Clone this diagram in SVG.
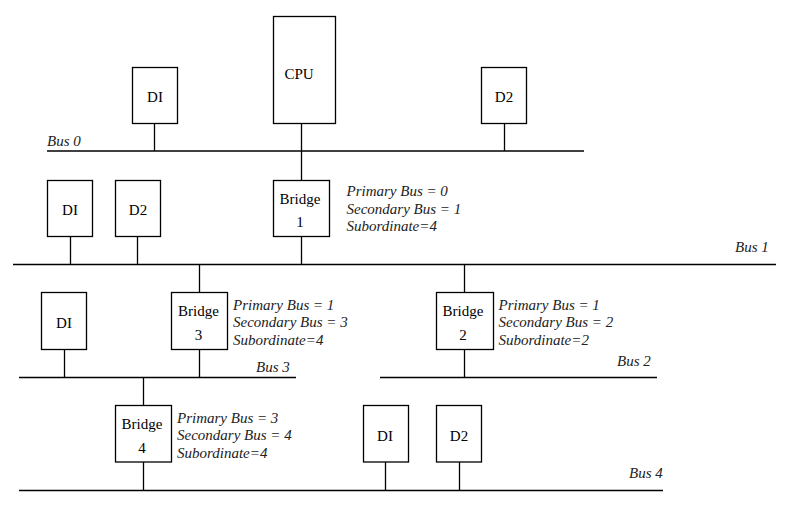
<svg xmlns="http://www.w3.org/2000/svg" width="802" height="513" viewBox="0 0 802 513">
<style>
.box{fill:#fff;stroke:#000;stroke-width:1.3}
.ln{stroke:#000;stroke-width:1.3;fill:none}
.t{font-family:'Liberation Serif','Times New Roman','DejaVu Serif',serif;font-size:15px;fill:#000;text-anchor:middle}
.i{font-family:'Liberation Serif','Times New Roman','DejaVu Serif',serif;font-size:15px;font-style:italic;fill:#222}
</style>
<rect width="802" height="513" fill="#fff"/>
<g id="connectors">
<line class="ln" x1="47" y1="151" x2="584" y2="151"/>
<line class="ln" x1="13" y1="264.5" x2="776" y2="264.5"/>
<line class="ln" x1="19" y1="377.5" x2="296" y2="377.5"/>
<line class="ln" x1="380" y1="377.5" x2="657" y2="377.5"/>
<line class="ln" x1="19" y1="490.5" x2="663" y2="490.5"/>
<line class="ln" x1="154.5" y1="123.5" x2="154.5" y2="151"/>
<line class="ln" x1="301.5" y1="123.5" x2="301.5" y2="180.5"/>
<line class="ln" x1="504.5" y1="123.5" x2="504.5" y2="151"/>
<line class="ln" x1="70.5" y1="236.5" x2="70.5" y2="264.5"/>
<line class="ln" x1="137.5" y1="236.5" x2="137.5" y2="264.5"/>
<line class="ln" x1="301.5" y1="236.5" x2="301.5" y2="264.5"/>
<line class="ln" x1="199.5" y1="264.5" x2="199.5" y2="292.5"/>
<line class="ln" x1="464.5" y1="264.5" x2="464.5" y2="292.5"/>
<line class="ln" x1="64.5" y1="349.5" x2="64.5" y2="377.5"/>
<line class="ln" x1="199.5" y1="349.5" x2="199.5" y2="377.5"/>
<line class="ln" x1="464.5" y1="349.5" x2="464.5" y2="377.5"/>
<line class="ln" x1="143.5" y1="377.5" x2="143.5" y2="405.5"/>
<line class="ln" x1="143.5" y1="462" x2="143.5" y2="490.5"/>
<line class="ln" x1="385.5" y1="462" x2="385.5" y2="490.5"/>
<line class="ln" x1="459.5" y1="462" x2="459.5" y2="490.5"/>
</g>
<g id="labels">
<text class="i" x="47" y="146">Bus 0</text>
<text class="i" x="735" y="252">Bus 1</text>
<text class="i" x="256" y="372">Bus 3</text>
<text class="i" x="617" y="366">Bus 2</text>
<text class="i" x="629" y="478">Bus 4</text>
</g>
<g id="cpu"><rect class="box" x="273.5" y="16.5" width="62" height="107"/><text class="t" x="299" y="79">CPU</text></g>
<g id="d1-bus0"><rect class="box" x="132.5" y="67.5" width="45" height="56"/><text class="t" x="155" y="102">DI</text></g>
<g id="d2-bus0"><rect class="box" x="481.5" y="67.5" width="45" height="56"/><text class="t" x="504" y="102">D2</text></g>
<g id="d1-bus1"><rect class="box" x="47.5" y="180.5" width="45" height="56"/><text class="t" x="70" y="215">DI</text></g>
<g id="d2-bus1"><rect class="box" x="115.5" y="180.5" width="45" height="56"/><text class="t" x="138" y="215">D2</text></g>
<g id="bridge1"><rect class="box" x="273.5" y="180.5" width="56" height="56"/><text class="t" x="300" y="204">Bridge</text><text class="t" x="300" y="227">1</text>
<text class="i" x="346.5" y="196">Primary Bus = 0</text><text class="i" x="346.5" y="213.5">Secondary Bus = 1</text><text class="i" x="346.5" y="231">Subordinate=4</text></g>
<g id="d1-bus3"><rect class="box" x="41.5" y="292.5" width="45" height="57"/><text class="t" x="64" y="328">DI</text></g>
<g id="bridge3"><rect class="box" x="171.5" y="292.5" width="56" height="57"/><text class="t" x="198.5" y="316">Bridge</text><text class="t" x="198.5" y="340">3</text>
<text class="i" x="233" y="310">Primary Bus = 1</text><text class="i" x="233" y="327">Secondary Bus = 3</text><text class="i" x="233" y="345">Subordinate=4</text></g>
<g id="bridge2"><rect class="box" x="436.5" y="292.5" width="57" height="57"/><text class="t" x="463" y="316">Bridge</text><text class="t" x="463" y="340">2</text>
<text class="i" x="498.5" y="310">Primary Bus = 1</text><text class="i" x="498.5" y="327">Secondary Bus = 2</text><text class="i" x="498.5" y="345">Subordinate=2</text></g>
<g id="bridge4"><rect class="box" x="115.5" y="405.5" width="56" height="56.5"/><text class="t" x="142" y="428.5">Bridge</text><text class="t" x="142" y="452.5">4</text>
<text class="i" x="177" y="422.5">Primary Bus = 3</text><text class="i" x="177" y="439.5">Secondary Bus = 4</text><text class="i" x="177" y="457.5">Subordinate=4</text></g>
<g id="d1-bus4"><rect class="box" x="363.5" y="405.5" width="45" height="56.5"/><text class="t" x="385" y="440.5">DI</text></g>
<g id="d2-bus4"><rect class="box" x="436.5" y="405.5" width="45" height="56.5"/><text class="t" x="459" y="440.5">D2</text></g>
</svg>
